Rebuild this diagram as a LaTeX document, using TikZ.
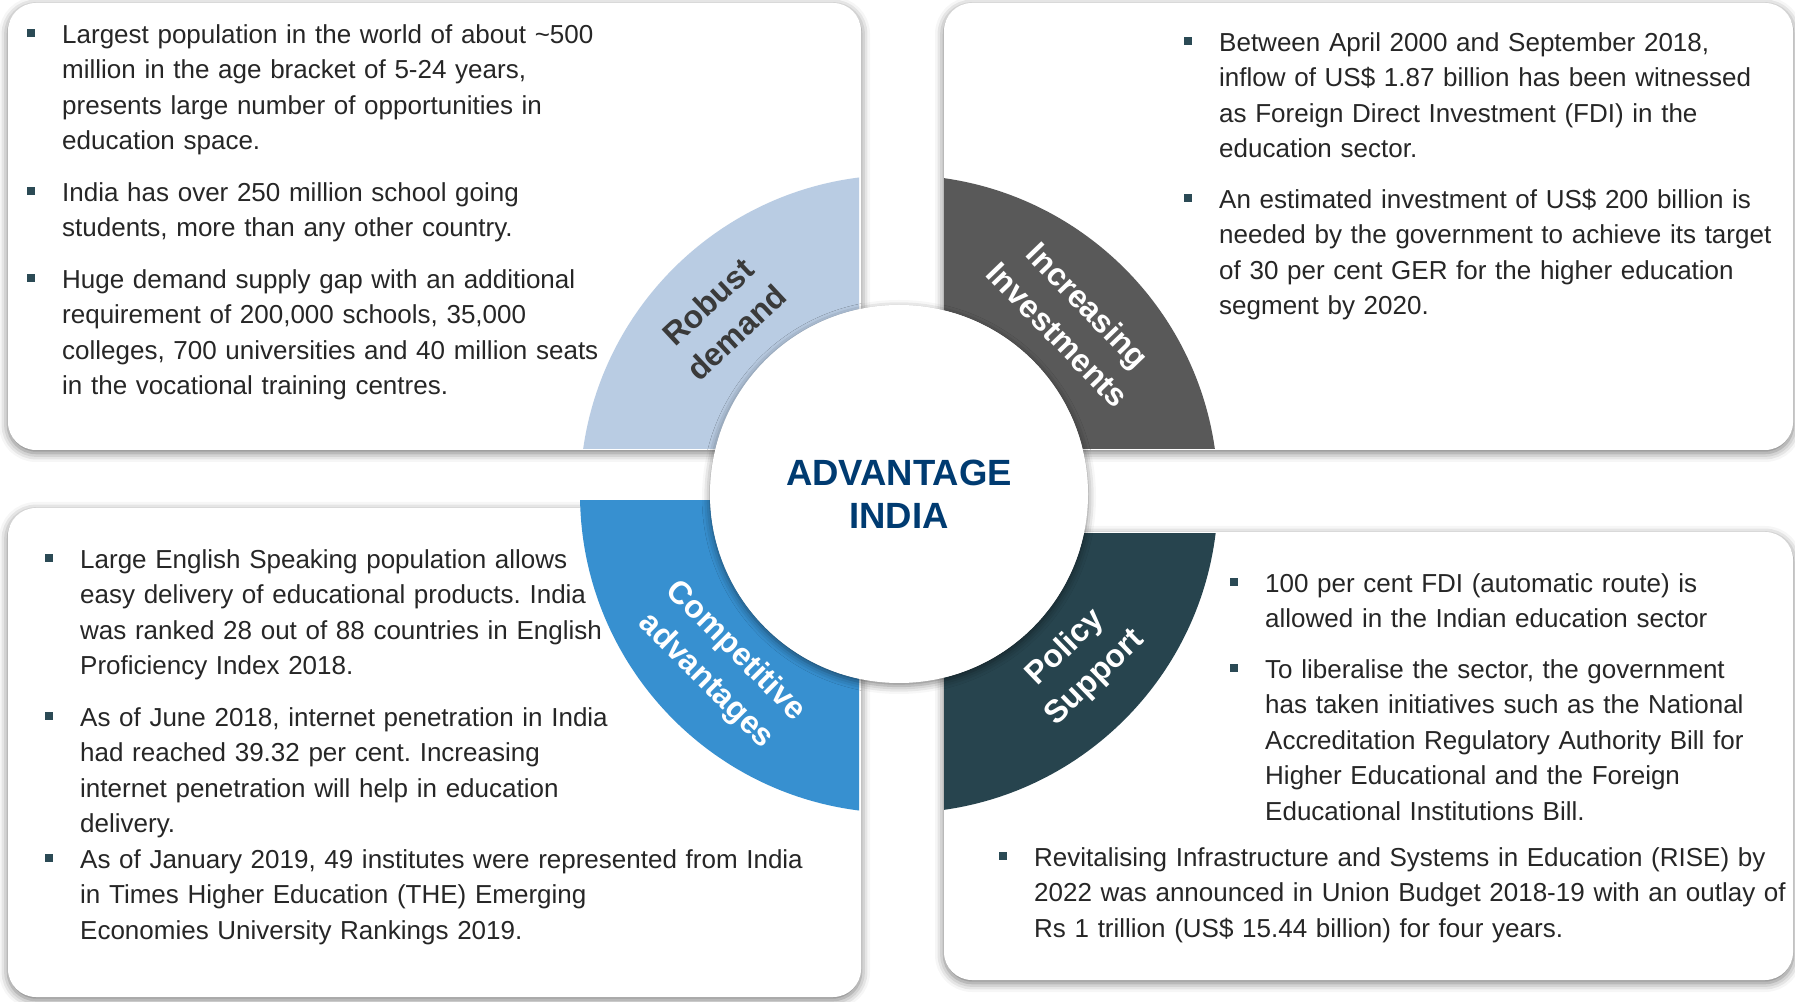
\documentclass[tikz,border=0pt]{standalone}
\usepackage{fontspec}
\setmainfont{Liberation Sans}
\usepackage{xcolor}
\usepackage{tikz}
\usetikzlibrary{positioning, shadows.blur}

\definecolor{lightblue}{HTML}{B9CCE3}
\definecolor{midblue}{HTML}{3790D0}
\definecolor{darkgrey}{HTML}{595959}
\definecolor{darkteal}{HTML}{27444E}
\definecolor{navy}{HTML}{003B71}
\definecolor{bodytext}{HTML}{262626}
\definecolor{labeldark}{HTML}{3A3A3A}
\definecolor{bulletcol}{HTML}{2B4A55}

\frenchspacing
\newcommand{\bitem}{\par\noindent\llap{\textcolor{bulletcol}{\rule[6pt]{8pt}{8pt}}\hspace{27pt}}}
\newcommand{\gapitem}[1]{\par\vspace{#1}\bitem}

\begin{document}
\begin{tikzpicture}[x=1pt, y=1pt]
	\tikzstyle{panel}=[draw=none, fill=white, rounded corners=28pt, inner sep=0pt,
		blur shadow={shadow xshift=0pt, shadow yshift=-3pt, shadow blur radius=9pt, shadow opacity=55}]
	\tikzstyle{textblock}=[anchor=base west, inner sep=0pt, text width=780pt, align=left,
		text=bodytext, font=\fontsize{26}{35.5}\selectfont\frenchspacing]
	\tikzstyle{ringlabel}=[align=center, inner sep=0pt, text=white,
		font=\fontsize{32}{42}\selectfont\bfseries]

	\useasboundingbox (0,0) rectangle (1795,1001);

	% four panels
	\node[panel, minimum width=853pt, minimum height=447pt] (tl) at (434.5,774.5) {};
	\node[panel, minimum width=849pt, minimum height=447pt] (tr) at (1368.5,774.5) {};
	\node[panel, minimum width=853pt, minimum height=489pt] (bl) at (434.5,248.5) {};
	\node[panel, minimum width=849pt, minimum height=448pt] (br) at (1368.5,245) {};

	% ring quadrants
	\coordinate (c) at (899,507);
	\begin{scope}
		\clip (0,552) rectangle (859,1001);
		\fill[lightblue, even odd rule] (c) circle (319) circle (189);
	\end{scope}
	\begin{scope}
		\clip (944,552) rectangle (1795,1001);
		\fill[darkgrey, even odd rule] (c) circle (319) circle (189);
	\end{scope}
	\begin{scope}
		\clip (0,0) rectangle (859,500);
		\fill[midblue, even odd rule] (c) circle (319) circle (189);
	\end{scope}
	\begin{scope}
		\clip (944,0) rectangle (1795,467);
		\fill[darkteal, even odd rule] (c) circle (319) circle (189);
	\end{scope}

	\node[circle, fill=white, minimum size=378pt, inner sep=0pt, align=center, text=navy,
		font=\fontsize{36.5}{43}\selectfont\bfseries,
		blur shadow={shadow xshift=0pt, shadow yshift=-3pt, shadow blur radius=8pt, shadow opacity=50}]
		(hub) at (c) {ADVANTAGE\\INDIA};

	\path (c) ++(135:250) node[ringlabel, rotate=43, text=labeldark] (robust) {Robust\\demand};
	\path (c) ++(45:246) node[ringlabel, rotate=-46] (invest) {Increasing\\Investments};
	\path (c) ++(224:248) node[ringlabel, rotate=-45] (compet) {Competitive\\advantages};
	\path (c) ++(-43:248) node[ringlabel, rotate=44] (policy) {Policy\\Support};

	% panel texts
	\node[textblock] (tltext) at (62,993) {%
		\bitem Largest population in the world of about \textasciitilde500\\
		million in the age bracket of 5-24 years,\\
		presents large number of opportunities in\\
		education space.
		\gapitem{16pt}India has over 250 million school going\\
		students, more than any other country.
		\gapitem{16pt}Huge demand supply gap with an additional\\
		requirement of 200,000 schools, 35,000\\
		colleges, 700 universities and 40 million seats\\
		in the vocational training centres.};
	\node[textblock] (trtext) at (1219,985) {%
		\bitem Between April 2000 and September 2018,\\
		inflow of US\$ 1.87 billion has been witnessed\\
		as Foreign Direct Investment (FDI) in the\\
		education sector.
		\gapitem{15pt}An estimated investment of US\$ 200 billion is\\
		needed by the government to achieve its target\\
		of 30 per cent GER for the higher education\\
		segment by 2020.};
	\node[textblock] (bltext) at (80,468) {%
		\bitem Large English Speaking population allows\\
		easy delivery of educational products. India\\
		was ranked 28 out of 88 countries in English\\
		Proficiency Index 2018.
		\gapitem{16pt}As of June 2018, internet penetration in India\\
		had reached 39.32 per cent. Increasing\\
		internet penetration will help in education\\
		delivery.
		\gapitem{0pt}As of January 2019, 49 institutes were represented from India\\
		in Times Higher Education (THE) Emerging\\
		Economies University Rankings 2019.};
	\node[textblock] (brtext) at (1265,444) {%
		\bitem 100 per cent FDI (automatic route) is\\
		allowed in the Indian education sector
		\gapitem{15pt}To liberalise the sector, the government\\
		has taken initiatives such as the National\\
		Accreditation Regulatory Authority Bill for\\
		Higher Educational and the Foreign\\
		Educational Institutions Bill.};
	\node[textblock] (risetext) at (1034,170) {%
		\bitem Revitalising Infrastructure and Systems in Education (RISE) by\\
		2022 was announced in Union Budget 2018-19 with an outlay of\\
		Rs 1 trillion (US\$ 15.44 billion) for four years.};
\end{tikzpicture}
\end{document}
